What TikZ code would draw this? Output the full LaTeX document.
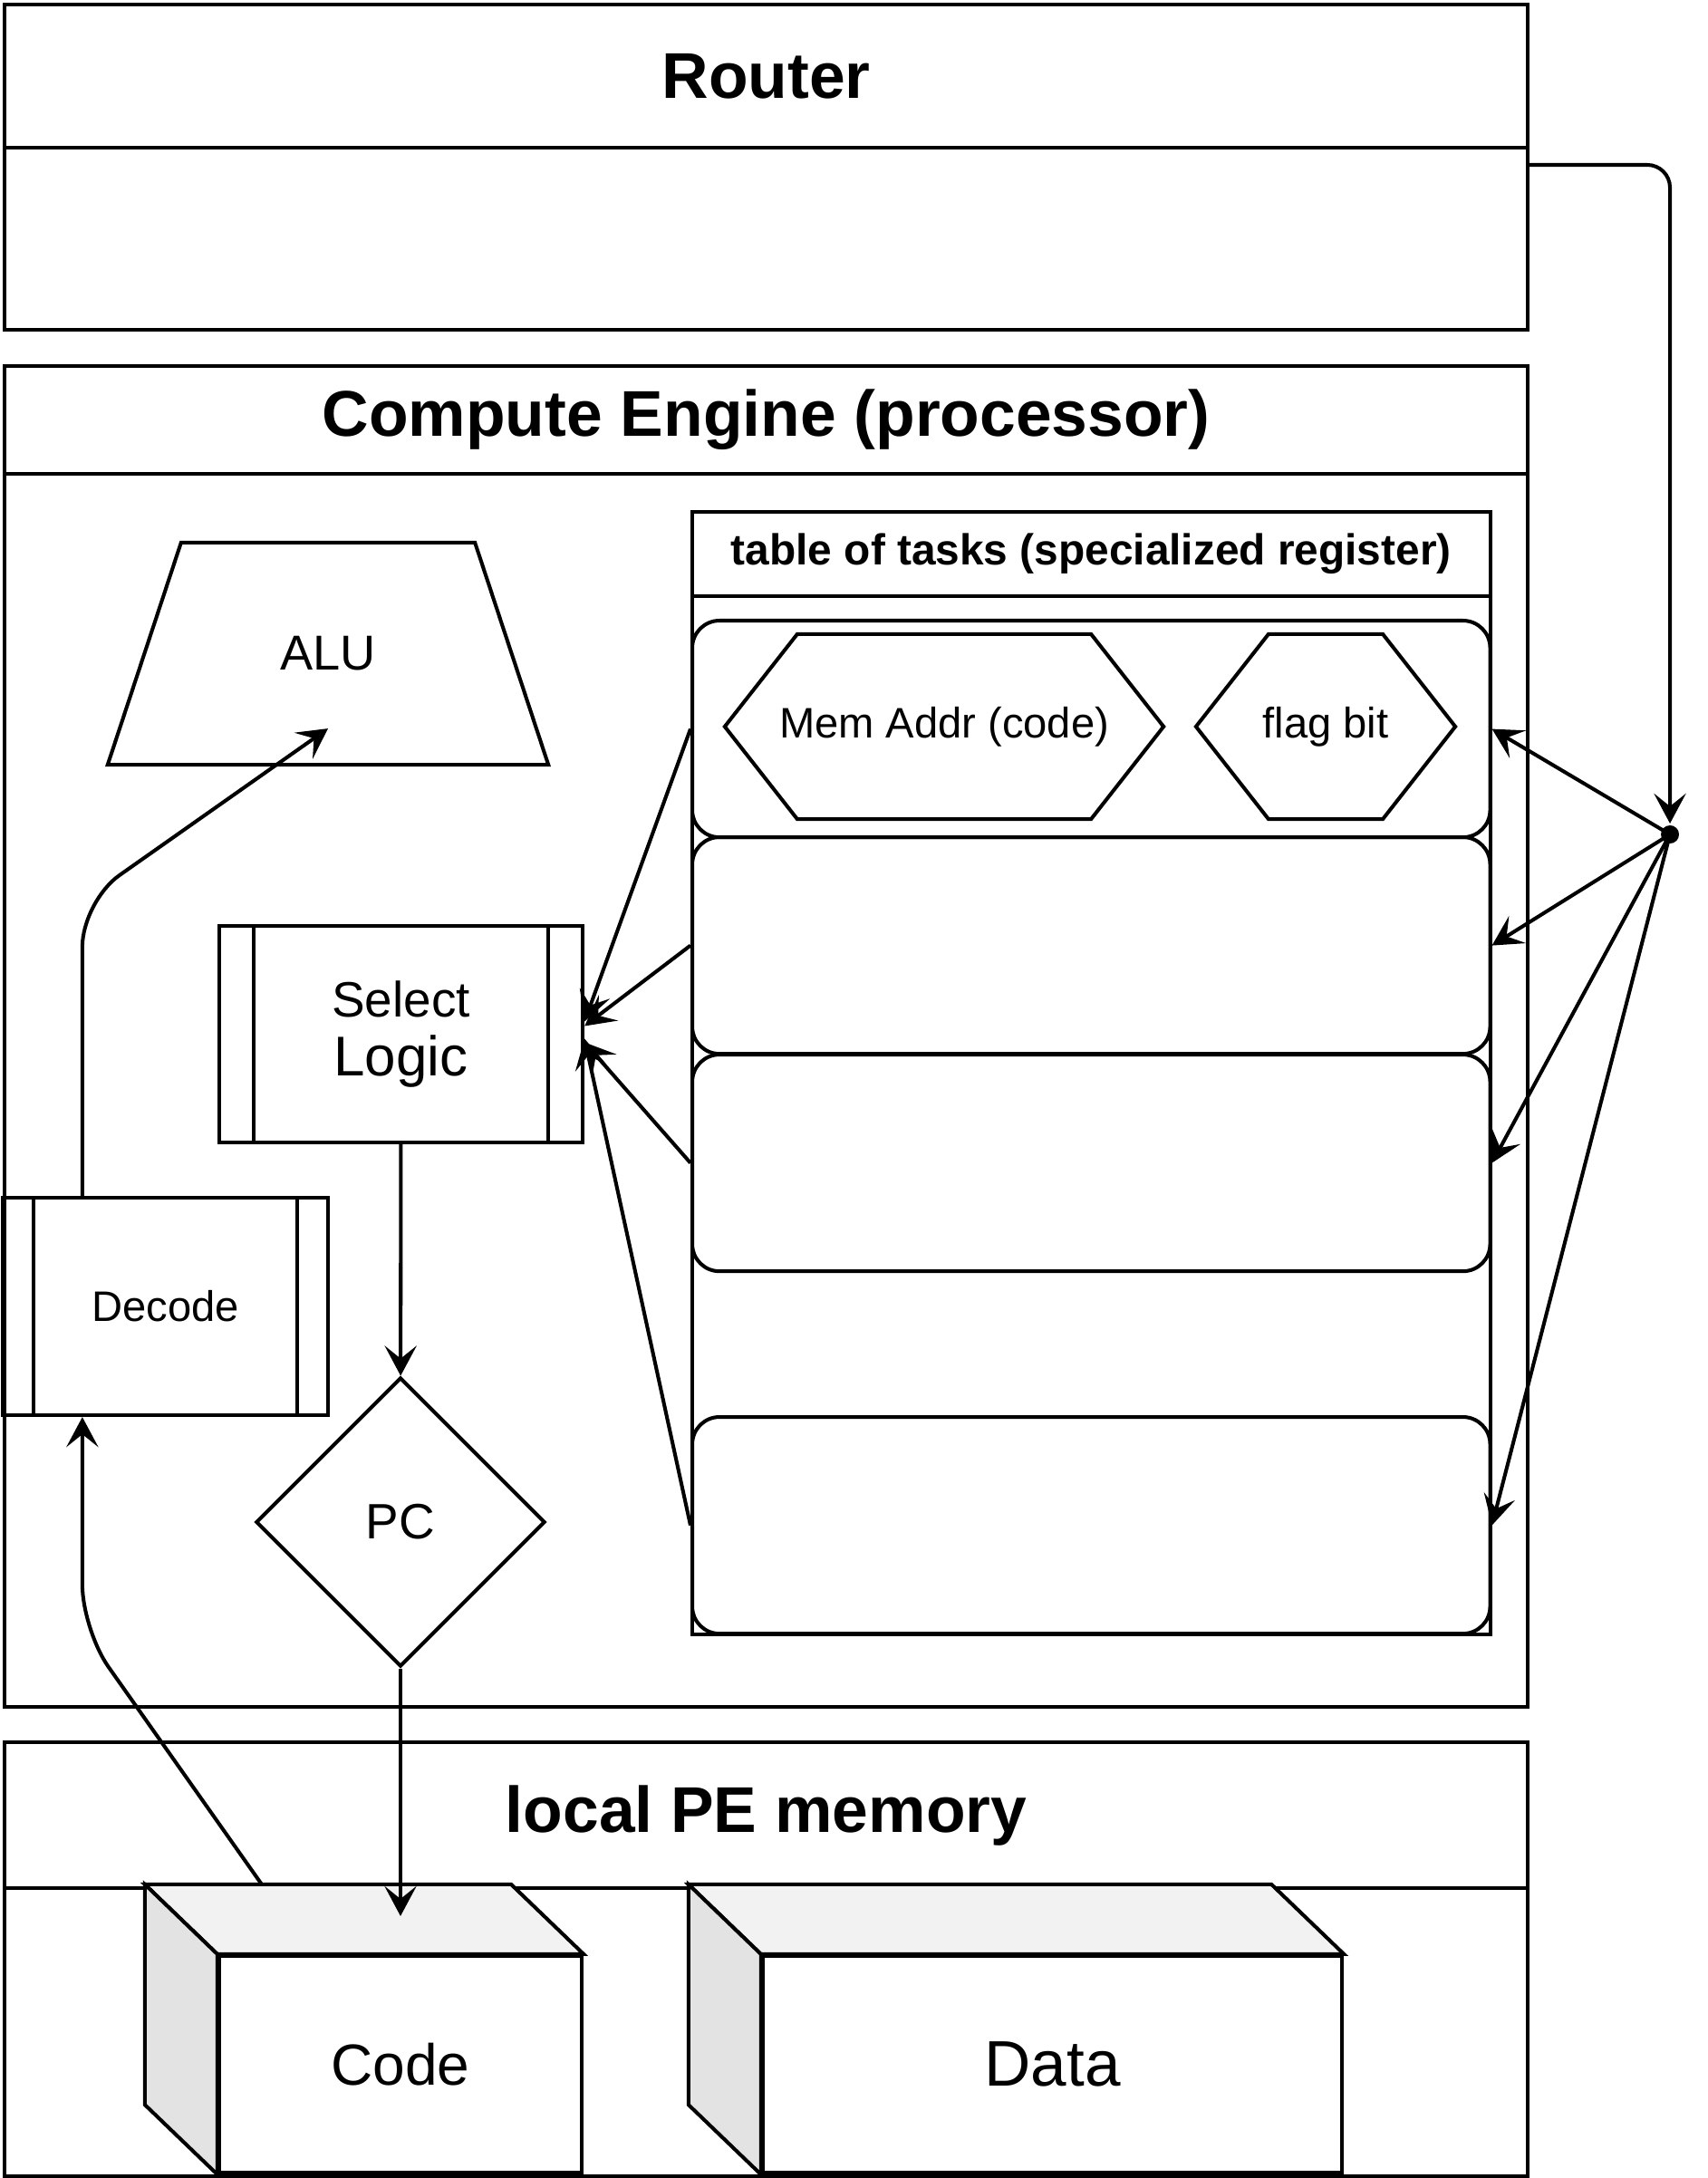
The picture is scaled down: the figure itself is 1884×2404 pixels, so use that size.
\documentclass[tikz,border=0pt]{standalone}
\usepackage{fontspec}
\setmainfont{Liberation Sans}
\usetikzlibrary{arrows.meta,positioning,calc,shapes.geometric}
\definecolor{cubetop}{HTML}{F2F2F2}
\definecolor{cubeside}{HTML}{E3E3E3}
\tikzset{
	>={Stealth[length=9.4pt,width=10pt,inset=4pt]},
	box/.style={
			draw,
			rectangle,
			inner sep=0pt,
			anchor=north west,
			minimum width=16.80cm
		},
	title/.style={box, font=\bfseries\fontsize{20.3}{24}\selectfont},
	row/.style={
			draw,
			rectangle,
			rounded corners=0.3cm,
			anchor=north west,
			minimum width=8.80cm,
			minimum height=2.39cm
		},
	proc/.style={draw, rectangle, inner sep=0pt},
	label/.style={inner sep=0pt, font=\fontsize{13.4}{16}\selectfont}
}

\begin{document}
\begin{tikzpicture}[x=0.01cm, y=-0.01cm, line width=1.15pt]
	\useasboundingbox (0,0) rectangle (1884,2404);

	% containers
	\node[title, minimum height=1.58cm] (router) at (3,3) {Router};
	\node[box, minimum height=2.01cm] (routerbody) at (3,161) {};
	\node[title, minimum height=1.19cm] (ce) at (3,402) {Compute Engine (processor)};
	\node[box, minimum height=13.60cm] (cebody) at (3,521) {};
	\node[title, minimum height=1.61cm] (mem) at (3,1921) {local PE memory};
	\node[box, minimum height=3.18cm] (membody) at (3,2082) {};

	% table of tasks
	\node[box, minimum width=8.80cm, minimum height=0.93cm, font=\bfseries\fontsize{13.6}{16}\selectfont] (tasks) at (762,563) {table of tasks (specialized register)};
	\node[box, minimum width=8.80cm, minimum height=11.45cm] (taskbody) at (762,656) {};
	\foreach \y [count=\i] in {683,922,1162,1562}
		\node[row] (row\i) at (762,\y) {};

	\node[label, minimum width=4.80cm, minimum height=2.00cm] (memaddr) at (1042,802) {Mem Addr (code)};
	\draw (memaddr.west) -- ($(memaddr.north west)+(80,0)$) -- ($(memaddr.north east)+(-80,0)$) -- (memaddr.east)
		-- ($(memaddr.south east)+(-80,0)$) -- ($(memaddr.south west)+(80,0)$) -- cycle;
	\node[label, minimum width=2.82cm, minimum height=2.00cm] (flag) at (1463,802) {flag bit};
	\draw (flag.west) -- ($(flag.north west)+(80,0)$) -- ($(flag.north east)+(-80,0)$) -- (flag.east)
		-- ($(flag.south east)+(-80,0)$) -- ($(flag.south west)+(80,0)$) -- cycle;

	% ALU
	\node[label, minimum width=4.82cm, minimum height=2.41cm, font=\fontsize{15.4}{18}\selectfont] (alu) at (362,721.5) {ALU};
	\draw ($(alu.north west)+(81,0)$) -- ($(alu.north east)+(-81,0)$) -- (alu.south east) -- (alu.south west) -- cycle;

	% select logic and decode
	\node[proc, minimum width=4.01cm, minimum height=2.39cm, align=center, font=\fontsize{15.6}{18.5}\selectfont] (sel) at (442.5,1141.5) {Select\\\fontsize{17.6}{20}\selectfont Logic};
	\draw ($(sel.north west)+(40,0)$) -- ($(sel.south west)+(40,0)$);
	\draw ($(sel.north east)+(-40,0)$) -- ($(sel.south east)+(-40,0)$);

	\node[proc, minimum width=3.59cm, minimum height=2.40cm, font=\fontsize{13.4}{16}\selectfont] (dec) at (182.5,1442) {Decode};
	\draw ($(dec.north west)+(36,0)$) -- ($(dec.south west)+(36,0)$);
	\draw ($(dec.north east)+(-36,0)$) -- ($(dec.south east)+(-36,0)$);

	\node[diamond, draw, inner sep=0pt, minimum width=3.19cm, minimum height=3.19cm, font=\fontsize{15.6}{18}\selectfont] (pc) at (442,1680) {PC};

	% memory cubes
	\node[proc, minimum width=4.00cm, minimum height=2.39cm, font=\fontsize{18.2}{22}\selectfont] (code) at (442,2278.5) {Code};
	\filldraw[fill=cubetop] (code.north west) -- ($(code.north west)+(-80,-77)$) -- ($(code.north east)+(-80,-77)$) -- (code.north east) -- cycle;
	\filldraw[fill=cubeside] (code.north west) -- ($(code.north west)+(-80,-77)$) -- ($(code.south west)+(-80,-77)$) -- (code.south west) -- cycle;

	\node[proc, minimum width=6.39cm, minimum height=2.39cm, font=\fontsize{20.2}{24}\selectfont] (data) at (1161.5,2278.5) {Data};
	\filldraw[fill=cubetop] (data.north west) -- ($(data.north west)+(-80,-77)$) -- ($(data.north east)+(-80,-77)$) -- (data.north east) -- cycle;
	\filldraw[fill=cubeside] (data.north west) -- ($(data.north west)+(-80,-77)$) -- ($(data.south west)+(-80,-77)$) -- (data.south west) -- cycle;

	% connectors
	\node[circle, fill, inner sep=0pt, minimum size=0.2cm] (hub) at (1843,921) {};
	\coordinate (rtap) at ($(routerbody.north east)+(0,21)$);
	\draw[->, rounded corners=0.25cm] (rtap) -- (rtap -| hub) -- (hub.north);
	\foreach \i in {1,...,4}
		\draw[->] (hub.center) -- (row\i.east);

	\draw[->] (row1.west) -- ($(sel.east)+(0,-14)$);
	\draw[->] (row2.west) -- ($(sel.east)+(0,-9)$);
	\draw[->] (row3.west) -- ($(sel.east)+(0,9)$);
	\draw[->] (row4.west) -- ($(sel.east)+(0,5)$);

	\draw[->] (sel) -- (pc);
	\draw[->] (pc.south) -- ($(code.north)+(0,-42)$);
	\draw[->, rounded corners=0.5cm] ($(dec.north west)+(90,0)$) -- ++(0,-325) -- ($(alu.south)+(0,-40)$);
	\draw[->, rounded corners=0.5cm] ($(code.north west)+(49,-77)$) -- ++(-198,-281) -- ($(dec.south west)+(90,0)$);
\end{tikzpicture}
\end{document}
